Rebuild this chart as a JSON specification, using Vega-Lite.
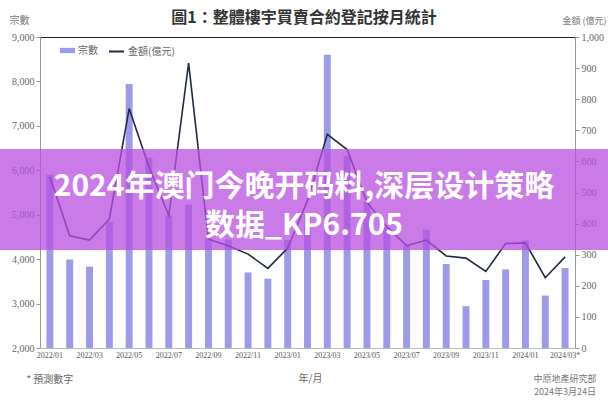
{
  "$schema": "https://vega.github.io/schema/vega-lite/v6.json",
  "width": 608,
  "height": 400,
  "autosize": "none",
  "padding": 0,
  "background": "white",
  "config": {"view": {"stroke": null}, "font": "Liberation Serif"},
  "title": {"text": "圖1：整體樓宇買賣合約登記按月統計", "font": "Noto Sans CJK TC", "fontSize": 16, "fontWeight": "bold", "color": "#333333", "anchor": "middle", "offset": -26},
  "datasets": {
    "main": [
      {"month": "2022/01", "count": 5900, "amount": 550},
      {"month": "2022/02", "count": 3990, "amount": 361},
      {"month": "2022/03", "count": 3830, "amount": 347},
      {"month": "2022/04", "count": 4840, "amount": 415},
      {"month": "2022/05", "count": 7940, "amount": 770},
      {"month": "2022/06", "count": 6290, "amount": 582},
      {"month": "2022/07", "count": 4990, "amount": 426},
      {"month": "2022/08", "count": 5230, "amount": 916},
      {"month": "2022/09", "count": 4470, "amount": 350},
      {"month": "2022/10", "count": 4440, "amount": 329},
      {"month": "2022/11", "count": 3700, "amount": 302},
      {"month": "2022/12", "count": 3560, "amount": 256},
      {"month": "2023/01", "count": 4430, "amount": 321},
      {"month": "2023/02", "count": 5000, "amount": 474},
      {"month": "2023/03", "count": 8600, "amount": 687},
      {"month": "2023/04", "count": 6330, "amount": 638},
      {"month": "2023/05", "count": 5280, "amount": 469},
      {"month": "2023/06", "count": 4720, "amount": 390},
      {"month": "2023/07", "count": 4300, "amount": 329},
      {"month": "2023/08", "count": 4660, "amount": 347},
      {"month": "2023/09", "count": 3890, "amount": 296},
      {"month": "2023/10", "count": 2940, "amount": 289},
      {"month": "2023/11", "count": 3530, "amount": 246},
      {"month": "2023/12", "count": 3770, "amount": 336},
      {"month": "2024/01", "count": 4420, "amount": 338},
      {"month": "2024/02", "count": 3180, "amount": 226},
      {"month": "2024/03*", "count": 3800, "amount": 293}
    ]
  },
  "resolve": {"scale": {"y": "independent"}, "axis": {"y": "independent", "x": "independent"}},
  "layer": [
    {
      "data": {"name": "main"},
      "mark": {"type": "bar"},
      "encoding": {
        "x": {"field": "month", "type": "ordinal", "sort": null,
          "scale": {"range": [40, 575], "paddingInner": 0.65, "paddingOuter": 0.325},
          "axis": {"orient": "bottom", "offset": -52, "values": ["2022/01","2022/03","2022/05","2022/07","2022/09","2022/11","2023/01","2023/03","2023/05","2023/07","2023/09","2023/11","2024/01","2024/03*"],
            "labelAngle": 0, "labelFont": "Liberation Serif", "labelFontSize": 8, "labelColor": "#555555", "labelPadding": 3,
            "ticks": false, "domainColor": "#bbbbbb", "title": "年/月", "titleFont": "Noto Sans CJK TC", "titleFontSize": 10, "titleFontWeight": "normal", "titleColor": "#666666", "titleX": 310, "titlePadding": 14}},
        "y": {"field": "count", "type": "quantitative",
          "scale": {"domain": [2000, 9000], "range": [348, 37], "zero": false, "nice": false},
          "axis": {"orient": "left", "offset": -40, "values": [2000,3000,4000,5000,6000,7000,8000,9000], "format": ",.0f",
            "grid": false, "labelFont": "Liberation Serif", "labelFontSize": 10, "labelColor": "#666666", "tickColor": "#999999", "tickSize": 4, "domainColor": "#999999",
            "title": "宗數", "titleAngle": 0, "titleX": -21, "titleY": 20, "titleAlign": "center", "titleBaseline": "middle", "titleFont": "Noto Sans CJK TC", "titleFontSize": 10, "titleFontWeight": "normal", "titleColor": "#777777"}},
        "y2": {"datum": 2000},
        "color": {"datum": "宗數", "scale": {"range": ["#9c9be9"]},
          "legend": {"orient": "none", "legendX": 60, "legendY": 43, "title": null, "symbolType": "M-1,-0.35H1V0.35H-1Z", "symbolSize": 225, "symbolStrokeWidth": 0, "labelFont": "Noto Sans CJK TC", "labelFontSize": 10, "labelColor": "#666666", "padding": 0, "labelOffset": 3}}
      }
    },
    {
      "data": {"name": "main"},
      "mark": {"type": "line", "strokeWidth": 1.6},
      "encoding": {
        "x": {"field": "month", "type": "ordinal", "sort": null,
          "axis": {"orient": "top", "offset": -37, "labels": false, "ticks": false, "domainColor": "#222222", "domainWidth": 1.2, "title": null}},
        "y": {"field": "amount", "type": "quantitative",
          "scale": {"domain": [0, 1000], "range": [348, 37], "nice": false},
          "axis": {"orient": "right", "offset": -33, "values": [0,100,200,300,400,500,600,700,800,900,1000], "format": ",.0f",
            "grid": false, "labelFont": "Liberation Serif", "labelFontSize": 10, "labelColor": "#666666", "tickColor": "#999999", "tickSize": 4, "domainColor": "#999999",
            "title": "金額 (億元)", "titleAngle": 0, "titleX": 9, "titleY": 20, "titleAlign": "center", "titleBaseline": "middle", "titleFont": "Noto Sans CJK TC", "titleFontSize": 9, "titleFontWeight": "normal", "titleColor": "#777777"}},
        "stroke": {"datum": "金額(億元)", "scale": {"range": ["#1f2a44"]},
          "legend": {"orient": "none", "legendX": 108, "legendY": 43, "title": null, "symbolType": "stroke", "symbolSize": 225, "symbolStrokeWidth": 2, "labelFont": "Noto Sans CJK TC", "labelFontSize": 10, "labelColor": "#666666", "padding": 0, "labelOffset": 3}}
      }
    },
    {
      "data": {"values": [{"b": 1}]},
      "mark": {"type": "rect", "color": "#b84fe0", "opacity": 0.75},
      "encoding": {
        "y": {"datum": 6480, "type": "quantitative", "scale": {"domain": [2000, 9000], "range": [348, 37], "zero": false, "nice": false}, "axis": null},
        "y2": {"datum": 4206}
      }
    },
    {
      "data": {"values": [{"t": "2024年澳门今晚开码料,深层设计策略\n数据_KP6.705"}]},
      "mark": {"type": "text", "font": "Noto Sans CJK SC", "fontWeight": "bold", "fontSize": 30, "color": "white", "lineBreak": "\n", "lineHeight": 39, "baseline": "middle", "align": "center"},
      "encoding": {
        "text": {"field": "t"},
        "y": {"datum": 5630, "type": "quantitative", "scale": {"domain": [2000, 9000], "range": [348, 37], "zero": false, "nice": false}, "axis": null}
      }
    },
    {
      "data": {"values": [{"t": "* 預測數字"}]},
      "mark": {"type": "text", "font": "Noto Sans CJK TC", "fontSize": 10, "color": "#666666", "baseline": "middle", "align": "center"},
      "encoding": {
        "text": {"field": "t"},
        "x": {"datum": "2022/01", "type": "ordinal", "axis": null},
        "y": {"datum": 1280, "type": "quantitative", "scale": {"domain": [2000, 9000], "range": [348, 37], "zero": false, "nice": false}, "axis": null}
      }
    },
    {
      "data": {"values": [{"t": "中原地產研究部\n2024年3月24日"}]},
      "mark": {"type": "text", "font": "Noto Sans CJK TC", "fontSize": 9, "color": "#777777", "baseline": "middle", "align": "center", "lineBreak": "\n", "lineHeight": 13},
      "encoding": {
        "text": {"field": "t"},
        "x": {"datum": "2024/03*", "type": "ordinal", "axis": null},
        "y": {"datum": 1300, "type": "quantitative", "scale": {"domain": [2000, 9000], "range": [348, 37], "zero": false, "nice": false}, "axis": null}
      }
    }
  ]
}
